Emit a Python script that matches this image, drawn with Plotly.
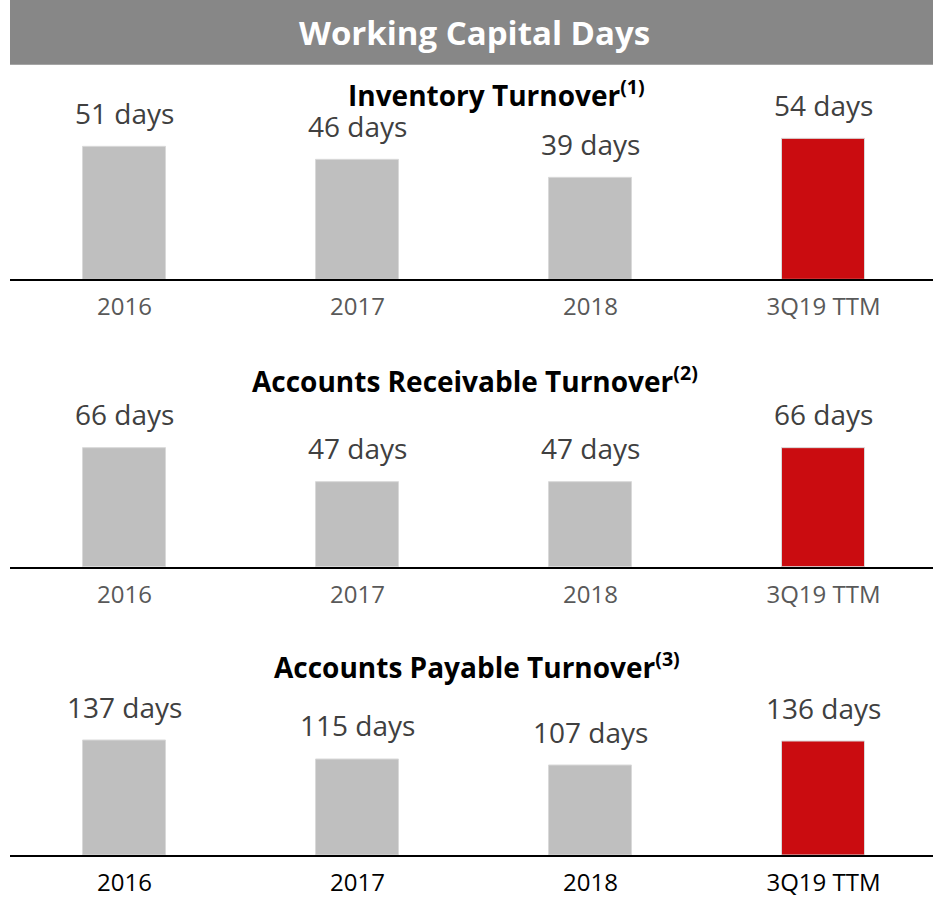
import plotly.graph_objects as go

# Periods shown on every panel
periods = ["2016", "2017", "2018", "3Q19 TTM"]

# Days per period for each working-capital metric
inventory_days = [51, 46, 39, 54]
receivable_days = [66, 47, 47, 66]
payable_days = [137, 115, 107, 136]

panel_titles = [
    "<b>Inventory Turnover<sup>(1)</sup></b>",
    "<b>Accounts Receivable Turnover<sup>(2)</sup></b>",
    "<b>Accounts Payable Turnover<sup>(3)</sup></b>",
]
main_title = "<b>Working Capital Days</b>"

W, H = 933, 898
FONT = "Open Sans"
GRAY_BAR = "#BFBFBF"
RED_BAR = "#CA0C10"
bar_colors = [GRAY_BAR, GRAY_BAR, GRAY_BAR, RED_BAR]


def py(px):
    """Pixel row (from top) to paper y."""
    return 1 - px / H


# (values, baseline px, top px, px per day, heading centre x px, heading centre y px, tick colour)
panels = [
    (inventory_days, 280, 70, 2.61, 496, 94, "#595959"),
    (receivable_days, 568, 380, 1.80, 475, 380, "#595959"),
    (payable_days, 857, 670, 0.836, 477, 667, "#000000"),
]

fig = go.Figure()
annotations = []
idx = list(range(len(periods)))

for i, (vals, base, top, scale, tx, ty, tick_col) in enumerate(panels, start=1):
    xa = "x" if i == 1 else f"x{i}"
    ya = "y" if i == 1 else f"y{i}"
    fig.add_trace(go.Bar(
        x=idx, y=vals, xaxis=xa, yaxis=ya,
        marker=dict(color=bar_colors, line=dict(color="#D9D9D9", width=1)),
        width=0.357, hoverinfo="skip", showlegend=False,
    ))
    ymax = (base - top) / scale
    fig.layout[f"xaxis{'' if i == 1 else i}"] = dict(
        domain=[10 / W, 1], range=[-0.491, 3.470],
        tickmode="array", tickvals=idx, ticktext=periods,
        showline=True, linecolor="black", linewidth=2,
        showgrid=False, zeroline=False, anchor=ya,
        ticks="outside", ticklen=5, tickcolor="rgba(0,0,0,0)",
        tickfont=dict(family=FONT, size=24, color=tick_col),
        fixedrange=True,
    )
    fig.layout[f"yaxis{'' if i == 1 else i}"] = dict(
        domain=[py(base), py(top)], range=[0, ymax],
        showgrid=False, zeroline=False, showticklabels=False,
        showline=False, anchor=xa, fixedrange=True,
    )
    # value labels above each bar
    for j, v in zip(idx, vals):
        annotations.append(dict(
            x=j, y=v, xref=xa, yref=ya, text=f"{v} days",
            showarrow=False, yanchor="middle", yshift=34,
            font=dict(family=FONT, size=28, color="#404040"),
        ))
    # panel heading
    annotations.append(dict(
        x=tx / W, y=py(ty), xref="paper", yref="paper",
        text=panel_titles[i - 1], showarrow=False,
        xanchor="center", yanchor="middle",
        font=dict(family=FONT, size=28, color="black"),
    ))

# header band
annotations.append(dict(
    x=474 / W, y=py(33), xref="paper", yref="paper", text=main_title,
    showarrow=False, xanchor="center", yanchor="middle",
    font=dict(family=FONT, size=33, color="white"),
))

fig.update_layout(
    width=W, height=H,
    margin=dict(l=0, r=0, t=0, b=0),
    paper_bgcolor="white", plot_bgcolor="white",
    annotations=annotations,
    shapes=[dict(
        type="rect", xref="paper", yref="paper",
        x0=10 / W, x1=1, y0=py(65), y1=1,
        fillcolor="#878787", line=dict(width=0), layer="below",
    )],
    bargap=0,
)

fig.write_html("out.html")
